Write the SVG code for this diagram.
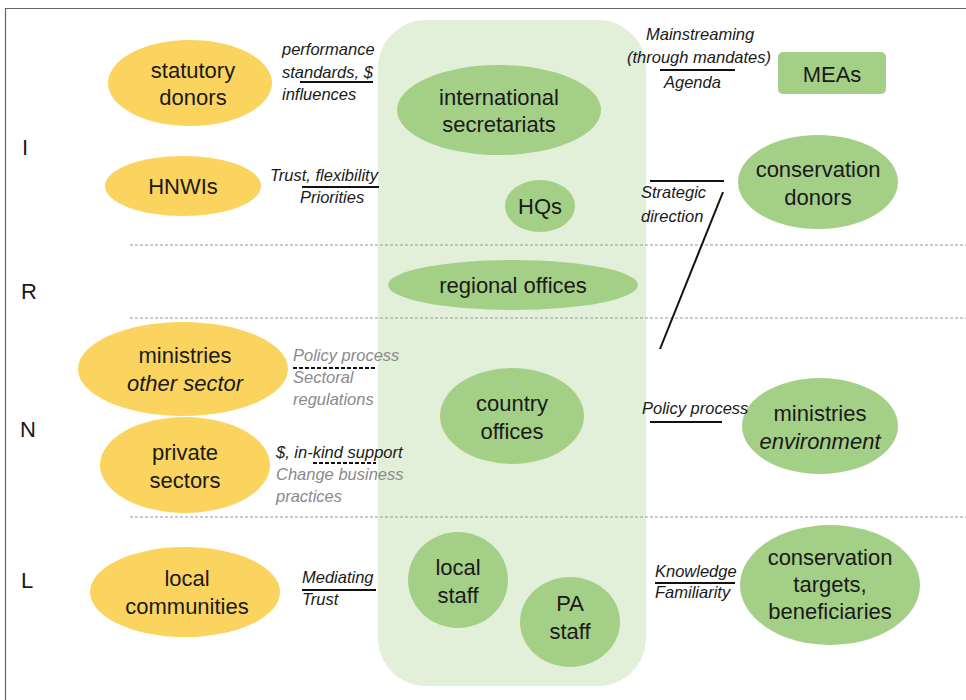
<svg xmlns="http://www.w3.org/2000/svg" width="966" height="700" viewBox="0 0 966 700">
<style>
.y{fill:#FAD45E}
.g{fill:#A4CF86}
.nt{font-family:"Liberation Sans",Arial,sans-serif;font-size:22px;fill:#1a1a1a;text-anchor:middle}
.it{font-style:italic}
.lb{font-family:"Liberation Sans",Arial,sans-serif;font-size:16.5px;font-style:italic;fill:#1a1a1a}
.gr{fill:#8a8a8a}
.rw{font-family:"Liberation Sans",Arial,sans-serif;font-size:22px;fill:#1a1a1a}
.sep{stroke:#999;stroke-width:1.2;stroke-dasharray:3 2;fill:none}
.ln{stroke:#111;stroke-width:2;fill:none}
.dl{stroke:#111;stroke-width:2;stroke-dasharray:4 2;fill:none}
</style>
<rect x="0" y="0" width="966" height="700" fill="#fff"/>
<path d="M5.5 700 V8.5 H966" fill="none" stroke="#666" stroke-width="1.2"/>
<rect x="378" y="20" width="268" height="666" rx="48" fill="#E2EFD9"/>
<g id="separators">
<line class="sep" x1="130" y1="245" x2="966" y2="245"/>
<line class="sep" x1="130" y1="318" x2="966" y2="318"/>
<line class="sep" x1="130" y1="517" x2="966" y2="517"/>
</g>
<g id="rows">
<text class="rw" x="22" y="155">I</text>
<text class="rw" x="21" y="299">R</text>
<text class="rw" x="20" y="437">N</text>
<text class="rw" x="21" y="588">L</text>
</g>
<g id="statutory-donors"><ellipse class="y" cx="190" cy="83" rx="82" ry="43"/><text class="nt" x="193" y="78">statutory</text><text class="nt" x="193" y="105">donors</text></g>
<g id="hnwis"><ellipse class="y" cx="183" cy="186" rx="78" ry="30"/><text class="nt" x="183" y="194">HNWIs</text></g>
<g id="ministries-other"><ellipse class="y" cx="183" cy="369" rx="105" ry="47"/><text class="nt" x="185" y="363">ministries</text><text class="nt it" x="185" y="391">other sector</text></g>
<g id="private-sectors"><ellipse class="y" cx="185" cy="465" rx="85" ry="48"/><text class="nt" x="185" y="460">private</text><text class="nt" x="185" y="488">sectors</text></g>
<g id="local-communities"><ellipse class="y" cx="185" cy="592" rx="95" ry="45"/><text class="nt" x="187" y="586">local</text><text class="nt" x="187" y="614">communities</text></g>
<g id="international-secretariats"><ellipse class="g" cx="499" cy="110" rx="102" ry="45"/><text class="nt" x="499" y="105">international</text><text class="nt" x="499" y="132">secretariats</text></g>
<g id="hqs"><ellipse class="g" cx="540" cy="206" rx="35" ry="26"/><text class="nt" x="540" y="214">HQs</text></g>
<g id="regional-offices"><ellipse class="g" cx="513" cy="285" rx="125" ry="25"/><text class="nt" x="513" y="293">regional offices</text></g>
<g id="country-offices"><ellipse class="g" cx="512" cy="416" rx="72" ry="48"/><text class="nt" x="512" y="411">country</text><text class="nt" x="512" y="439">offices</text></g>
<g id="local-staff"><ellipse class="g" cx="458" cy="580" rx="50" ry="48"/><text class="nt" x="458" y="575">local</text><text class="nt" x="458" y="603">staff</text></g>
<g id="pa-staff"><ellipse class="g" cx="570" cy="622" rx="50" ry="45"/><text class="nt" x="570" y="611">PA</text><text class="nt" x="570" y="639">staff</text></g>
<g id="meas"><rect class="g" x="778" y="52" width="108" height="42" rx="5"/><text class="nt" x="832" y="82">MEAs</text></g>
<g id="conservation-donors"><ellipse class="g" cx="818" cy="182" rx="80" ry="47"/><text class="nt" x="818" y="177">conservation</text><text class="nt" x="818" y="205">donors</text></g>
<g id="ministries-environment"><ellipse class="g" cx="820" cy="426" rx="78" ry="48"/><text class="nt" x="820" y="421">ministries</text><text class="nt it" x="820" y="449">environment</text></g>
<g id="conservation-targets"><ellipse class="g" cx="830" cy="585" rx="90" ry="60"/><text class="nt" x="830" y="565">conservation</text><text class="nt" x="830" y="592">targets,</text><text class="nt" x="830" y="619">beneficiaries</text></g>
<g id="connectors">
<line class="ln" x1="300" y1="82" x2="373" y2="82"/>
<line class="ln" x1="302" y1="187" x2="379" y2="187"/>
<line class="ln" x1="660" y1="70" x2="735" y2="70"/>
<line class="ln" x1="650" y1="181" x2="724" y2="181"/>
<line class="ln" x1="723" y1="192" x2="660" y2="349"/>
<line class="dl" x1="293" y1="368" x2="377" y2="368"/>
<line class="dl" x1="313" y1="463" x2="376" y2="463"/>
<line class="ln" x1="650" y1="422" x2="722" y2="422"/>
<line class="ln" x1="302" y1="590" x2="376" y2="590"/>
<line class="ln" x1="655" y1="583" x2="735" y2="583"/>
</g>
<g id="labels">
<text class="lb" x="282" y="55">performance</text>
<text class="lb" x="282" y="78">standards, $</text>
<text class="lb" x="282" y="100">influences</text>
<text class="lb" x="270" y="181">Trust, flexibility</text>
<text class="lb" x="300" y="203">Priorities</text>
<text class="lb" x="646" y="40">Mainstreaming</text>
<text class="lb" x="627" y="63">(through mandates)</text>
<text class="lb" x="664" y="88">Agenda</text>
<text class="lb" x="641" y="198">Strategic</text>
<text class="lb" x="641" y="222">direction</text>
<text class="lb gr" x="293" y="361">Policy process</text>
<text class="lb gr" x="293" y="383">Sectoral</text>
<text class="lb gr" x="293" y="405">regulations</text>
<text class="lb" x="276" y="458">$, in-kind support</text>
<text class="lb gr" x="276" y="480">Change business</text>
<text class="lb gr" x="276" y="502">practices</text>
<text class="lb" x="642" y="414">Policy process</text>
<text class="lb" x="302" y="583">Mediating</text>
<text class="lb" x="302" y="605">Trust</text>
<text class="lb" x="655" y="577">Knowledge</text>
<text class="lb" x="655" y="598">Familiarity</text>
</g>
</svg>
